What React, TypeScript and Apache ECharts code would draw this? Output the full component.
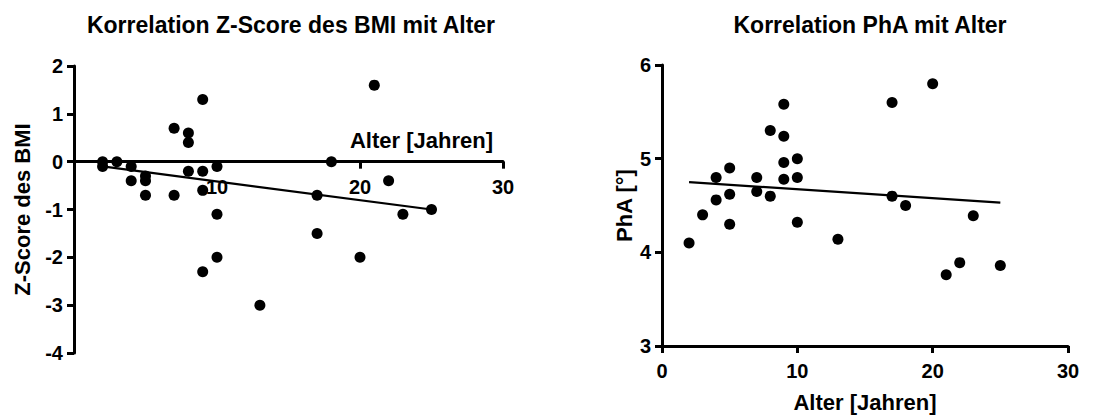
import React, { useEffect, useRef } from "react";
import * as echarts from "echarts";

// Left chart: Z-Score des BMI vs Alter
const bmiAge = [2, 2, 3, 4, 4, 5, 5, 5, 7, 7, 8, 8, 8, 9, 9, 9, 9, 10, 10, 10, 13, 17, 17, 18, 20, 21, 22, 23, 25];
const bmiZ = [0, -0.1, 0, -0.1, -0.4, -0.3, -0.4, -0.7, -0.7, 0.7, 0.6, 0.4, -0.2, -0.2, -0.6, -2.3, 1.3, -0.1, -1.1, -2.0, -3.0, -0.7, -1.5, 0, -2.0, 1.6, -0.4, -1.1, -1.0];
const bmiFitX = [2, 25];
const bmiFitY = [-0.1, -1.0];

// Right chart: PhA vs Alter
const phaAge = [2, 3, 4, 4, 5, 5, 5, 7, 7, 8, 8, 9, 9, 9, 9, 10, 10, 10, 13, 17, 17, 18, 20, 21, 22, 23, 25];
const phaVal = [4.1, 4.4, 4.8, 4.56, 4.9, 4.62, 4.3, 4.8, 4.65, 5.3, 4.6, 5.58, 5.24, 4.96, 4.78, 5.0, 4.8, 4.32, 4.14, 5.6, 4.6, 4.5, 5.8, 3.76, 3.89, 4.39, 3.86];
const phaFitX = [2, 25];
const phaFitY = [4.75, 4.53];

const titles = ["Korrelation Z-Score des BMI mit Alter", "Korrelation PhA mit Alter"];
const xName = "Alter [Jahren]";
const yNames = ["Z-Score des BMI", "PhA [°]"];

const FONT = "Liberation Sans, Arial, sans-serif";

export default function App() {
  const ref = useRef<HTMLDivElement>(null);
  useEffect(() => {
    if (!ref.current) return;
    const chart = echarts.init(ref.current, null, { renderer: "svg" });
    const axisLine = { show: true, onZero: false, lineStyle: { color: "#000", width: 3 } };
    const axisTick = { show: true, inside: false, length: 7, lineStyle: { color: "#000", width: 3 } };
    const labelStyle = { color: "#000", fontSize: 20, fontWeight: "bold" as const, fontFamily: FONT };
    const nameStyle = { color: "#000", fontSize: 22, fontWeight: "bold" as const, fontFamily: FONT };
    const gridH = 287;
    chart.setOption({
      animation: false,
      backgroundColor: "#fff",
      title: [
        { text: titles[0], left: 286, top: 8, textAlign: "center", textStyle: { ...nameStyle, fontSize: 23 } },
        { text: titles[1], left: 865, top: 8, textAlign: "center", textStyle: { ...nameStyle, fontSize: 23 } },
      ],
      grid: [
        { left: 74, top: 66, width: 429, height: gridH },
        { left: 662, top: 65, width: 406, height: gridH },
      ],
      xAxis: [
        {
          type: "value", gridIndex: 0, min: 0, max: 30, interval: 10,
          position: "bottom", offset: -gridH * 4 / 6,
          axisLine, axisTick,
          splitLine: { show: false },
          axisLabel: { ...labelStyle, margin: 15, showMinLabel: false },
          name: xName, nameLocation: "end", nameGap: -10,
          nameTextStyle: { ...nameStyle, align: "right", verticalAlign: "bottom", padding: [0, 0, 10, 0] },
        },
        {
          type: "value", gridIndex: 1, min: 0, max: 30, interval: 10,
          axisLine, axisTick,
          splitLine: { show: false },
          axisLabel: { ...labelStyle, margin: 15 },
          name: xName, nameLocation: "middle", nameGap: 45,
          nameTextStyle: nameStyle,
        },
      ],
      yAxis: [
        {
          type: "value", gridIndex: 0, min: -4, max: 2, interval: 1,
          axisLine, axisTick, splitLine: { show: false },
          axisLabel: { ...labelStyle, margin: 11 },
          name: yNames[0], nameLocation: "middle", nameGap: 41,
          nameTextStyle: nameStyle,
        },
        {
          type: "value", gridIndex: 1, min: 3, max: 6, interval: 1,
          axisLine, axisTick, splitLine: { show: false },
          axisLabel: { ...labelStyle, margin: 11 },
          name: yNames[1], nameLocation: "middle", nameGap: 27,
          nameTextStyle: nameStyle,
        },
      ],
      series: [
        {
          type: "scatter", xAxisIndex: 0, yAxisIndex: 0, symbolSize: 11,
          itemStyle: { color: "#000", opacity: 1 },
          data: bmiAge.map((a, i) => [a, bmiZ[i]]),
        },
        {
          type: "line", xAxisIndex: 0, yAxisIndex: 0, showSymbol: false, symbol: "none",
          lineStyle: { color: "#000", width: 2.2 },
          data: bmiFitX.map((a, i) => [a, bmiFitY[i]]),
        },
        {
          type: "scatter", xAxisIndex: 1, yAxisIndex: 1, symbolSize: 11,
          itemStyle: { color: "#000", opacity: 1 },
          data: phaAge.map((a, i) => [a, phaVal[i]]),
        },
        {
          type: "line", xAxisIndex: 1, yAxisIndex: 1, showSymbol: false, symbol: "none",
          lineStyle: { color: "#000", width: 2.2 },
          data: phaFitX.map((a, i) => [a, phaFitY[i]]),
        },
      ],
    });
    return () => chart.dispose();
  }, []);
  return (
    <div
      ref={ref}
      style={{ position: "fixed", left: 0, top: 0, width: 1113, height: 418, background: "#fff" }}
    />
  );
}
